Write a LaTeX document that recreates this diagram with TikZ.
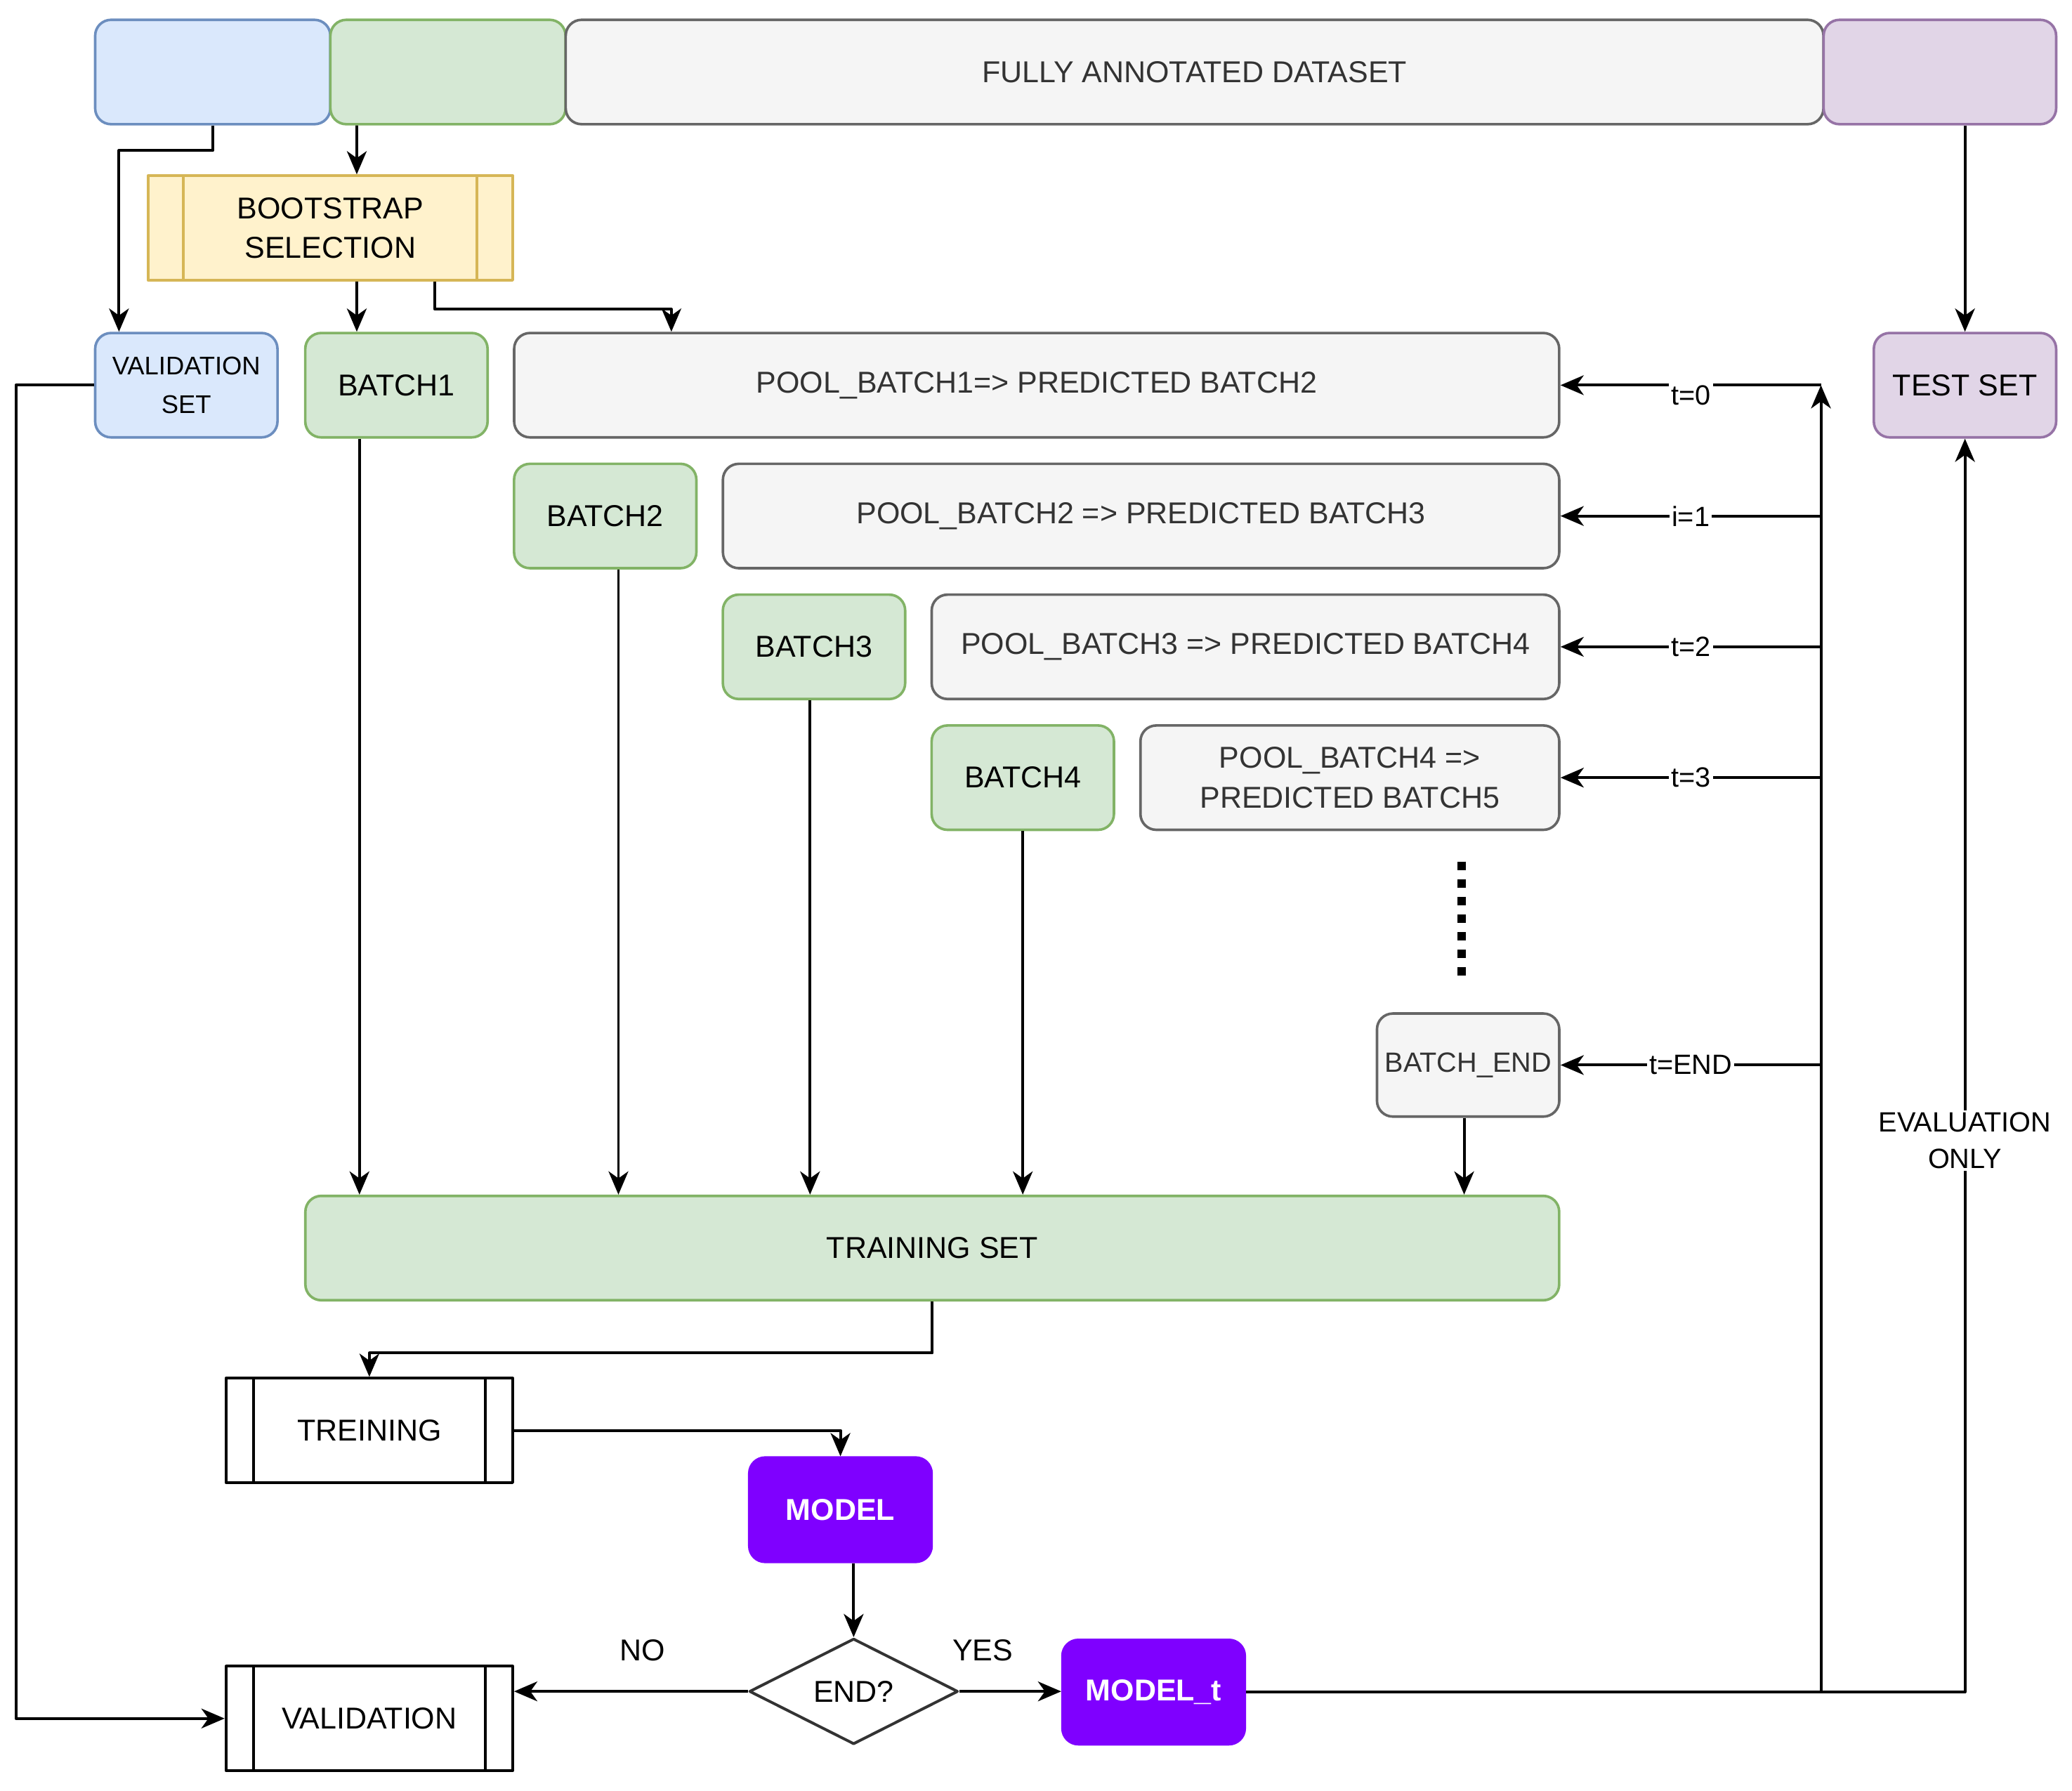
\documentclass[tikz,border=0pt]{standalone}
\usepackage{fontspec}
\setmainfont{Liberation Sans}
\usetikzlibrary{arrows.meta,shapes.geometric}
\definecolor{blfill}{HTML}{DAE8FC}
\definecolor{bldraw}{HTML}{6C8EBF}
\definecolor{grfill}{HTML}{D5E8D4}
\definecolor{grdraw}{HTML}{82B366}
\definecolor{gyfill}{HTML}{F5F5F5}
\definecolor{gydraw}{HTML}{666666}
\definecolor{gytext}{HTML}{333333}
\definecolor{pufill}{HTML}{E1D5E7}
\definecolor{pudraw}{HTML}{9673A6}
\definecolor{yefill}{HTML}{FFF2CC}
\definecolor{yedraw}{HTML}{D6B656}
\definecolor{modfill}{HTML}{7F00FF}
\newcommand{\txtbig}{\fontsize{13}{17}\selectfont}
\newcommand{\txtmid}{\fontsize{12}{15.5}\selectfont}
\newcommand{\txtsmall}{\fontsize{11}{16.5}\selectfont}
\begin{document}
\begin{tikzpicture}[x=0.02cm, y=-0.02cm, line join=round, >={Stealth[length=10pt,width=8.5pt,inset=3pt]}]
	\tikzset{box/.style={rectangle, rounded corners=.24cm, line width=1.1pt, minimum width=2.76cm, minimum height=1.58cm, inner sep=2pt, align=center, font=\txtbig},
		bluebox/.style={box, fill=blfill, draw=bldraw},
		greenbox/.style={box, fill=grfill, draw=grdraw},
		poolbox/.style={box, fill=gyfill, draw=gydraw, text=gytext},
		purplebox/.style={box, fill=pufill, draw=pudraw},
		modelbox/.style={box, fill=modfill, draw=modfill, text=white, font=\txtbig\bfseries},
		procbox/.style={rectangle, line width=1.2pt, minimum width=4.34cm, minimum height=1.58cm, align=center, font=\txtbig},
		arr/.style={->, line width=1.2pt},
		lbl/.style={fill=white, inner sep=1pt, font=\txtmid, align=center},
		note/.style={inner sep=1pt, font=\txtbig}}
	\useasboundingbox (0,0) rectangle (1568,1355);
	% dataset split
	\node[bluebox, minimum width=3.56cm] (topval) at (161,54.5) {};
	\node[greenbox, minimum width=3.56cm] (topbat) at (339,54.5) {};
	\node[poolbox, minimum width=19.04cm] (topall) at (904,54.5) {FULLY ANNOTATED DATASET};
	\node[purplebox, minimum width=3.52cm] (toptest) at (1468,54.5) {};
	\node[procbox, fill=yefill, draw=yedraw, minimum width=5.52cm] (boot) at (250,172.5) {BOOTSTRAP\\SELECTION};
	\draw[yedraw, line width=1.2pt] ([xshift=.56cm]boot.north west) -- ([xshift=.56cm]boot.south west)
		([xshift=-.56cm]boot.north east) -- ([xshift=-.56cm]boot.south east);
	% sets and batches
	\node[bluebox, font=\txtsmall] (valset) at (141,291.5) {VALIDATION\\SET};
	\node[greenbox] (b1) at (300,291.5) {BATCH1};
	\node[poolbox, minimum width=15.82cm] (pool1) at (784.5,291.5) {POOL\_BATCH1=> PREDICTED BATCH2};
	\node[greenbox] (b2) at (458,390.5) {BATCH2};
	\node[poolbox, minimum width=12.66cm] (pool2) at (863.5,390.5) {POOL\_BATCH2 => PREDICTED BATCH3};
	\node[greenbox] (b3) at (616,489.5) {BATCH3};
	\node[poolbox, minimum width=9.5cm] (pool3) at (942.5,489.5) {POOL\_BATCH3 => PREDICTED BATCH4};
	\node[greenbox] (b4) at (774,588.5) {BATCH4};
	\node[poolbox, minimum width=6.34cm] (pool4) at (1021.5,588.5) {POOL\_BATCH4 =>\\PREDICTED BATCH5};
	\draw[line width=3.6pt, dash pattern=on 3.6pt off 4pt] (1106,652) -- (1106,740);
	\node[poolbox, font=\txtmid, minimum height=1.56cm, inner sep=1pt] (bend) at (1111,806) {BATCH\_END};
	\node[purplebox] (testset) at (1487,291.5) {TEST SET};
	\node[greenbox, minimum width=18.98cm] (train) at (705.5,944.5) {TRAINING SET};
	% training loop
	\node[procbox, draw=black, fill=white] (trein) at (279.5,1082.5) {TREINING};
	\node[modelbox] (model) at (636,1142.5) {MODEL};
	\node[diamond, draw=black!80, line width=1.2pt, aspect=2, inner sep=0pt, minimum width=3.16cm, minimum height=1.6cm, font=\txtbig] (endq) at (646,1280) {END?};
	\node[modelbox] (modelt) at (873,1280.5) {MODEL\_t};
	\node[procbox, draw=black, fill=white] (valid) at (279.5,1300.5) {VALIDATION};
	\draw[line width=1.2pt] ([xshift=.44cm]trein.north west) -- ([xshift=.44cm]trein.south west)
		([xshift=-.44cm]trein.north east) -- ([xshift=-.44cm]trein.south east);
	\draw[line width=1.2pt] ([xshift=.44cm]valid.north west) -- ([xshift=.44cm]valid.south west)
		([xshift=-.44cm]valid.north east) -- ([xshift=-.44cm]valid.south east);
	% connectors
	\draw[arr] (topval.south) -- ++(0,19) -| ([xshift=.38cm]valset.north west);
	\draw[arr] ([xshift=-1.38cm]topbat.south) -- ([xshift=.4cm]boot.north);
	\draw[arr] (testset.north |- toptest.south) -- (testset.north);
	\draw[arr] ([xshift=.4cm]boot.south) -- ([xshift=-.6cm]b1.north);
	\draw[arr] ([xshift=1.58cm]boot.south) -- ++(0,21) -| ([xshift=-5.53cm]pool1.north);
	\coordinate (c1) at ([xshift=-.56cm]b1.south);
	\coordinate (c2) at ([xshift=.2cm]b2.south);
	\coordinate (c3) at ([xshift=-.06cm]b3.south);
	\coordinate (c4) at (b4.south);
	\coordinate (c5) at ([xshift=-.06cm]bend.south);
	\draw[arr] (c1) -- (c1 |- train.north);
	\draw[arr] (c2) -- (c2 |- train.north);
	\draw[arr] (c3) -- (c3 |- train.north);
	\draw[arr] (c4) -- (c4 |- train.north);
	\draw[arr] (c5) -- (c5 |- train.north);
	\draw[arr] (train.south) -- ++(0,39) -| (trein.north);
	\draw[arr] (trein.east) -| (model.north);
	\draw[arr] (endq.north |- model.south) -- (endq.north);
	\draw[arr] (endq.west) -- node[note, pos=.45, yshift=.62cm] {NO} (endq.west -| valid.east);
	\draw[arr] (endq.east) -- node[note, pos=.23, yshift=.62cm] {YES} (endq.east -| modelt.west);
	\draw[arr] (modelt.east) -| node[lbl, pos=.72] {EVALUATION\\ONLY} (testset.south);
	\coordinate (bus) at (1378,291.5);
	\draw[arr] (bus |- modelt.east) -- (bus);
	\draw[arr] (bus) -- node[lbl, yshift=-.15cm] {t=0} (pool1.east);
	\draw[arr] (bus |- pool2.east) -- node[lbl] {i=1} (pool2.east);
	\draw[arr] (bus |- pool3.east) -- node[lbl] {t=2} (pool3.east);
	\draw[arr] (bus |- pool4.east) -- node[lbl] {t=3} (pool4.east);
	\draw[arr] (bus |- bend.east) -- node[lbl] {t=END} (bend.east);
	\draw[arr] (valset.west) -- ++(-59,0) |- (valid.west);
\end{tikzpicture}
\end{document}
